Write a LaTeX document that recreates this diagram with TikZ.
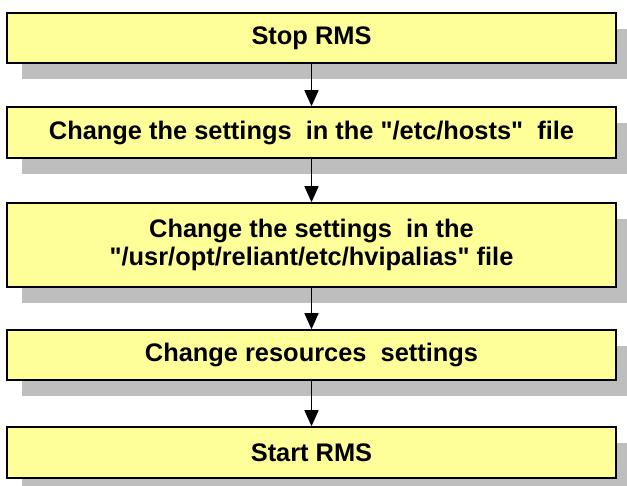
\documentclass[tikz,border=0pt]{standalone}
\usepackage{fontspec}
\setmainfont{Liberation Sans}
\usetikzlibrary{arrows.meta,shadows}
\definecolor{boxyellow}{RGB}{255,255,153}
\definecolor{shadowgray}{RGB}{190,190,190}
\tikzset{
  stepbox/.style={draw,line width=1.5pt,fill=boxyellow,minimum width=609pt,inner sep=0pt,align=center,
    font=\fontsize{25.4}{28.5}\selectfont\bfseries,
    drop shadow={shadow xshift=15pt,shadow yshift=-16pt,fill=shadowgray,opacity=1}},
  flow/.style={-{Triangle[length=16pt,width=14pt]},line width=1.5pt}
}

\begin{document}
\begin{tikzpicture}[x=1pt,y=1pt]
\useasboundingbox (0,0) rectangle (627,-486);
\clip (0,0) rectangle (627,-486);
\node[stepbox,minimum height=50pt] (stop) at (311.5,-38) {Stop RMS};
\node[stepbox,minimum height=51pt] (hosts) at (311.5,-132.5) {Change the settings\ \ in the \textquotedbl/etc/hosts\textquotedbl\ \ file};
\node[stepbox,minimum height=84pt] (alias) at (311.5,-245) {Change the settings\ \ in the\\\textquotedbl/usr/opt/reliant/etc/hvipalias\textquotedbl\ file};
\node[stepbox,minimum height=50pt] (res) at (311.5,-355) {Change resources\ \ settings};
\node[stepbox,minimum height=51pt] (start) at (311.5,-452.5) {Start RMS};
\draw[flow] (stop) -- (hosts); \draw[flow] (hosts) -- (alias); \draw[flow] (alias) -- (res); \draw[flow] (res) -- (start);
\end{tikzpicture}
\end{document}
